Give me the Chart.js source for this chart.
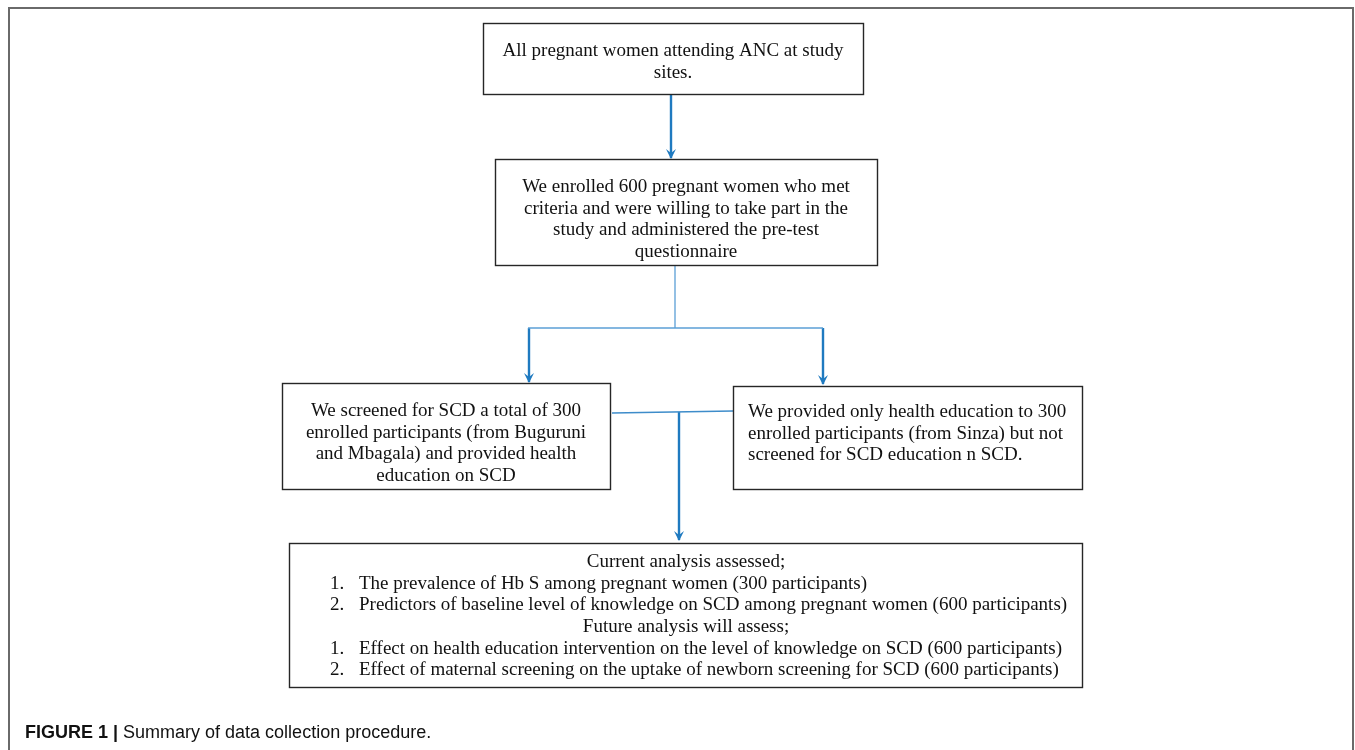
<!DOCTYPE html>
<html>
<head>
<meta charset="utf-8">
<script src="https://cdn.jsdelivr.net/npm/chart.js@4/dist/chart.umd.min.js"></script>
<style>
  html, body { margin: 0; padding: 0; background: #ffffff; }
  #wrap { position: relative; width: 1355px; height: 750px; }
  canvas { display: block; }
</style>
</head>
<body>
<div id="wrap"><canvas id="c" width="1355" height="750"></canvas></div>
<script>
// ---- content (text of each step) ----
const stepIds = ["all", "enrolled", "screened", "educated", "analysis"];
const stepText = {
  all: ["All pregnant women attending ANC at study", "sites."],
  enrolled: ["We enrolled 600 pregnant women who met", "criteria and were willing to take part in the", "study and administered the pre-test", "questionnaire"],
  screened: ["We screened for SCD a total of 300", "enrolled participants (from Buguruni", "and Mbagala) and provided health", "education on SCD"],
  educated: ["We provided only health education to 300", "enrolled participants (from Sinza) but not", "screened for SCD education n SCD."],
  analysis: [
    {h: "Current analysis assessed;"},
    {n: "1.", t: "The prevalence of Hb S among pregnant women (300 participants)"},
    {n: "2.", t: "Predictors of baseline level of knowledge on SCD among pregnant women (600 participants)"},
    {h: "Future analysis will assess;"},
    {n: "1.", t: "Effect on health education intervention on the level of knowledge on SCD (600 participants)"},
    {n: "2.", t: "Effect of maternal screening on the uptake of newborn screening for SCD (600 participants)"}
  ]
};
const captionBold = "FIGURE 1 | ";
const captionText = "Summary of data collection procedure.";

// ---- layout (positions in scale units) ----
const boxLayout = {
  all:      {x0: 483, y0: 23,  x1: 863,  y1: 94,  tx: 673, ty: 51,  align: "center"},
  enrolled: {x0: 495, y0: 159, x1: 877,  y1: 265, tx: 686, ty: 187, align: "center", clip: true},
  screened: {x0: 282, y0: 383, x1: 610,  y1: 489, tx: 446, ty: 411, align: "center"},
  educated: {x0: 733, y0: 386, x1: 1082, y1: 489, tx: 748, ty: 412, align: "left"},
  analysis: {x0: 289, y0: 543, x1: 1082, y1: 687, tx: 686, ty: 562, align: "list", nx: 330, lx: 359}
};
const connectors = [
  {pts: [[671, 95], [671, 158]], arrow: true, color: "#1f7ac0", w: 2.4},
  {pts: [[675, 265], [675, 328]], arrow: false, color: "#5b9fd6", w: 1.3},
  {pts: [[528, 328], [823, 328]], arrow: false, color: "#5b9fd6", w: 1.6},
  {pts: [[529, 328], [529, 382]], arrow: true, color: "#1f7ac0", w: 2.4},
  {pts: [[823, 328], [823, 384]], arrow: true, color: "#1f7ac0", w: 2.4},
  {pts: [[612, 413], [733, 411]], arrow: false, color: "#3d8cca", w: 1.6},
  {pts: [[679, 412], [679, 540]], arrow: true, color: "#1f7ac0", w: 2.4}
];
const lineH = 21.7;

const datasets = connectors.map((c, i) => ({
  label: "c" + i,
  data: c.pts.map(p => ({x: p[0], y: p[1]})),
  showLine: true,
  borderColor: c.color,
  borderWidth: c.w,
  pointRadius: 0,
  fill: false,
  arrow: c.arrow
}));

const flowPlugin = {
  id: "flow",
  beforeDatasetsDraw(chart) {
    const {ctx, scales: {x, y}} = chart;
    ctx.save();
    ctx.strokeStyle = "#6a6a6a";
    ctx.lineWidth = 2;
    ctx.beginPath();
    ctx.moveTo(x.getPixelForValue(9), y.getPixelForValue(750));
    ctx.lineTo(x.getPixelForValue(9), y.getPixelForValue(8));
    ctx.lineTo(x.getPixelForValue(1353), y.getPixelForValue(8));
    ctx.lineTo(x.getPixelForValue(1353), y.getPixelForValue(750));
    ctx.stroke();
    ctx.restore();
  },
  afterDatasetsDraw(chart) {
    const {ctx, scales: {x, y}} = chart;
    ctx.save();
    chart.data.datasets.forEach(ds => {
      if (!ds.arrow) return;
      const p = ds.data[ds.data.length - 1];
      const px = x.getPixelForValue(p.x), py = y.getPixelForValue(p.y);
      ctx.fillStyle = ds.borderColor;
      ctx.beginPath();
      ctx.moveTo(px, py + 1);
      ctx.lineTo(px - 5, py - 9);
      ctx.lineTo(px, py - 5);
      ctx.lineTo(px + 5, py - 9);
      ctx.closePath();
      ctx.fill();
    });
    stepIds.forEach(id => {
      const b = boxLayout[id];
      const X0 = x.getPixelForValue(b.x0), X1 = x.getPixelForValue(b.x1);
      const Y0 = y.getPixelForValue(b.y0), Y1 = y.getPixelForValue(b.y1);
      ctx.fillStyle = "#ffffff";
      ctx.fillRect(X0, Y0, X1 - X0, Y1 - Y0);
      ctx.save();
      if (b.clip) { ctx.beginPath(); ctx.rect(X0, Y0, X1 - X0, Y1 - Y0); ctx.clip(); }
      ctx.fillStyle = "#111111";
      ctx.font = '19px "Liberation Serif", "Times New Roman", serif';
      ctx.textBaseline = "middle";
      const lines = stepText[id];
      const tx = x.getPixelForValue(b.tx);
      lines.forEach((ln, i) => {
        const ty = y.getPixelForValue(b.ty + i * lineH);
        if (b.align === "list") {
          if (ln.h) { ctx.textAlign = "center"; ctx.fillText(ln.h, tx, ty); }
          else {
            ctx.textAlign = "left";
            ctx.fillText(ln.n, x.getPixelForValue(b.nx), ty);
            ctx.fillText(ln.t, x.getPixelForValue(b.lx), ty);
          }
        } else {
          ctx.textAlign = b.align;
          ctx.fillText(ln, tx, ty);
        }
      });
      ctx.restore();
      ctx.strokeStyle = "#262626";
      ctx.lineWidth = 1.4;
      ctx.strokeRect(X0 + 0.5, Y0 + 0.5, X1 - X0, Y1 - Y0);
    });
    ctx.textAlign = "left";
    ctx.textBaseline = "alphabetic";
    ctx.fillStyle = "#111111";
    const cx = x.getPixelForValue(25), cy = y.getPixelForValue(738);
    ctx.font = 'bold 18px "Liberation Sans", Arial, sans-serif';
    ctx.fillText(captionBold, cx, cy);
    const w = ctx.measureText(captionBold).width;
    ctx.font = '18px "Liberation Sans", Arial, sans-serif';
    ctx.fillText(captionText, cx + w, cy);
    ctx.restore();
  }
};

new Chart(document.getElementById("c"), {
  type: "scatter",
  data: {datasets},
  options: {
    responsive: false,
    devicePixelRatio: 1,
    animation: false,
    layout: {padding: 0},
    plugins: {legend: {display: false}, tooltip: {enabled: false}, title: {display: false}},
    scales: {
      x: {type: "linear", min: 0, max: 1355, display: false},
      y: {type: "linear", min: 0, max: 750, reverse: true, display: false}
    }
  },
  plugins: [flowPlugin]
});
</script>
</body>
</html>
